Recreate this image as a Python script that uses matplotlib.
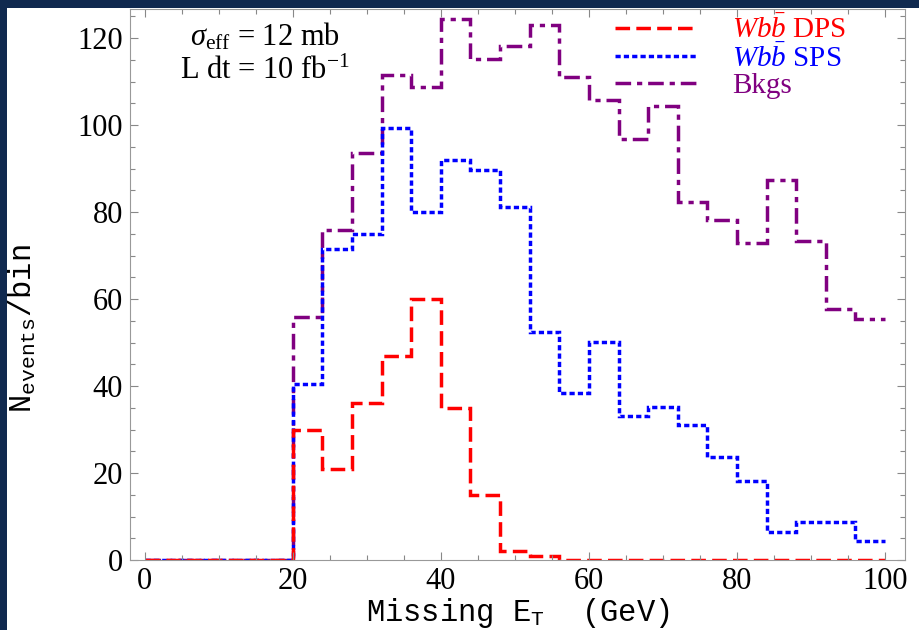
import numpy as np
import matplotlib
matplotlib.use('Agg')
import matplotlib.pyplot as plt
from matplotlib.patches import Rectangle

plt.rcParams['font.family'] = ['Liberation Serif', 'DejaVu Serif']
plt.rcParams['mathtext.fontset'] = 'custom'
plt.rcParams['mathtext.rm'] = 'Liberation Serif'
plt.rcParams['mathtext.it'] = 'Liberation Serif:italic'
plt.rcParams['mathtext.tt'] = 'Liberation Mono'

# bin edges (GeV) and events per bin
edges = np.arange(0, 101, 4)
dps = [0, 0, 0, 0, 0, 30, 21, 36, 47, 60, 35, 15, 2, 1,
       0, 0, 0, 0, 0, 0, 0, 0, 0, 0, 0]
sps = [0, 0, 0, 0, 0, 40.5, 71.6, 75, 99.4, 80, 92, 89.7, 81.2, 52.5,
       38.5, 50.2, 33.2, 35.2, 31, 23.6, 18.2, 6.5, 8.7, 8.7, 4.4]
bkg = [0, 0, 0, 0, 0, 55.9, 75.9, 93.5, 111.5, 108.7, 124.4, 115.3, 118.2, 123,
       111, 105.7, 96.7, 104.4, 82.2, 78.2, 72.8, 87.4, 73.4, 57.6, 55.3]

labels = [r'$Wb\bar{b}$ DPS', r'$Wb\bar{b}$ SPS', 'Bkgs']

fig = plt.figure(figsize=(9.2, 6.3), dpi=100, facecolor='#10294f')
fig.add_artist(Rectangle((7 / 920, 0), 1, 622 / 630, transform=fig.transFigure,
                         facecolor='white', edgecolor='none', zorder=-10))

ax = fig.add_axes([130 / 920, 70 / 630, 775 / 920, 551.5 / 630])

lw = 2.5
h_bkg = ax.stairs(bkg, edges, baseline=None, color='#800080', lw=lw,
                  linestyle=(0, (4.5, 1.7, 1.5, 1.7)), label=labels[2])
h_sps = ax.stairs(sps, edges, baseline=None, color='#0000ff', lw=lw,
                  linestyle=(0, (1.5, 0.9)), label=labels[1])
h_dps = ax.stairs(dps, edges, baseline=None, color='#ff0000', lw=lw,
                  linestyle=(0, (4.2, 1.8)), label=labels[0])

ax.set_xlim(-2, 102.7)
ax.set_ylim(0, 126.8)
ax.set_xticks(np.arange(0, 101, 20))
ax.set_xticks(np.arange(0, 101, 5), minor=True)
ax.set_yticks(np.arange(0, 121, 20))
ax.set_yticks(np.arange(0, 126, 5), minor=True)
ax.tick_params(which='both', direction='in', top=True, right=True,
               color='#888888', labelsize=22, width=0.8)
ax.tick_params(which='major', length=6, pad=5)
ax.tick_params(which='minor', length=3.5)
for s in ax.spines.values():
    s.set_color('#999999')

ax.set_xlabel(r'Missing E$_{\mathtt{T}}$  (GeV)', family='Liberation Mono',
              fontsize=22, labelpad=0)
ax.set_ylabel(r'N$_{\mathtt{events}}$/bin', family='Liberation Mono',
              fontsize=22)
ax.yaxis.set_label_coords(-0.118, 0.42)

ax.text(0.174, 0.948, r'$\sigma_{\rm eff}$ = 12 mb', transform=ax.transAxes,
        ha='center', va='center', fontsize=22)
ax.text(0.174, 0.886, r'L dt = 10 fb$^{-1}$', transform=ax.transAxes,
        ha='center', va='center', fontsize=22)

leg = ax.legend(handles=[h_dps, h_sps, h_bkg], loc='upper left',
                bbox_to_anchor=(0.6, 1.025), frameon=False, fontsize=21,
                handlelength=2.8, handletextpad=1.2, labelspacing=0.0,
                borderpad=0.2, labelcolor='linecolor')

fig.savefig('out.png', dpi=100, facecolor=fig.get_facecolor())
